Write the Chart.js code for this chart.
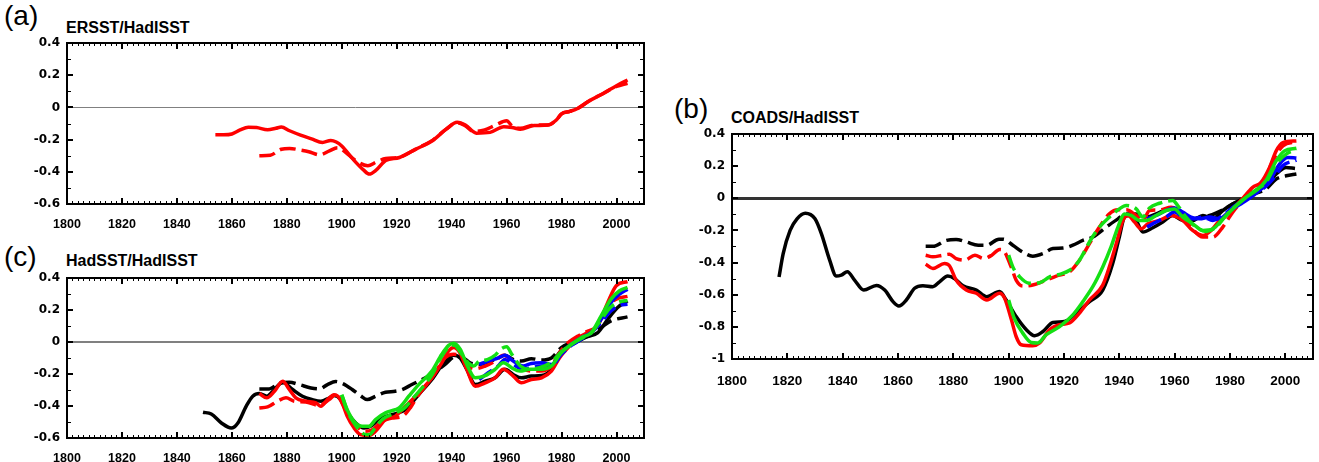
<!DOCTYPE html>
<html>
<head>
<meta charset="utf-8">
<script src="https://cdn.jsdelivr.net/npm/chart.js@4.4.0/dist/chart.umd.min.js"></script>
<style>
  body { margin: 0; background: #fff; }
  #wrap { position: relative; width: 1319px; height: 462px; overflow: hidden; font-family: "Liberation Sans", Arial, sans-serif; }
  .pnl { position: absolute; font-size: 28px; line-height: 28px; color: #000; }
  .ttl { position: absolute; font-size: 16px; line-height: 16px; font-weight: bold; color: #000; }
  canvas { position: absolute; }
</style>
</head>
<body>
<div id="wrap">
  <div class="pnl" style="left:4px;top:2px">(a)</div>
  <div class="ttl" style="left:66px;top:20px">ERSST/HadISST</div>
  <div class="pnl" style="left:674px;top:95px">(b)</div>
  <div class="ttl" style="left:731px;top:110px">COADS/HadISST</div>
  <div class="pnl" style="left:4px;top:243px">(c)</div>
  <div class="ttl" style="left:66px;top:253px">HadSST/HadISST</div>
  <canvas id="chartA" width="660" height="230" style="left:0;top:0"></canvas>
  <canvas id="chartB" width="659" height="300" style="left:660px;top:90px"></canvas>
  <canvas id="chartC" width="660" height="222" style="left:0;top:240px"></canvas>
</div>
<script>
// tick values
const xTicks = [1800, 1820, 1840, 1860, 1880, 1900, 1920, 1940, 1960, 1980, 2000];
const yTicksAC = [-0.6, -0.4, -0.2, 0, 0.2, 0.4];
const yTicksB = [-1, -0.8, -0.6, -0.4, -0.2, 0, 0.2, 0.4];

// (a) ERSST/HadISST  [year, difference]
const aRedSolid = [[1854,-0.17],[1857,-0.17],[1860,-0.165],[1863,-0.14],[1866,-0.123],[1869,-0.125],[1873,-0.139],[1876,-0.13],[1878,-0.122],[1881,-0.145],[1885,-0.172],[1889,-0.195],[1893,-0.218],[1896,-0.205],[1898,-0.215],[1900,-0.24],[1904,-0.32],[1908,-0.39],[1910,-0.414],[1912.5,-0.39],[1916,-0.33],[1921,-0.311],[1927,-0.259],[1933,-0.207],[1938,-0.135],[1942,-0.093],[1945,-0.11],[1949,-0.16],[1954,-0.155],[1959,-0.12],[1962,-0.125],[1965,-0.135],[1970,-0.113],[1975,-0.11],[1978,-0.08],[1980,-0.04],[1983,-0.025],[1986,-0.005],[1990,0.04],[1995,0.085],[2000,0.135],[2004,0.17]];
const aRedDash = [[1870,-0.30],[1874,-0.297],[1878,-0.26],[1881,-0.255],[1885,-0.265],[1888,-0.275],[1892,-0.295],[1895.5,-0.27],[1898.5,-0.25],[1901.5,-0.28],[1905,-0.33],[1909.5,-0.362],[1912.5,-0.34],[1916,-0.318],[1921,-0.31],[1927,-0.258],[1933,-0.205],[1938,-0.135],[1942,-0.095],[1945,-0.115],[1948,-0.15],[1952,-0.14],[1956,-0.11],[1960,-0.083],[1962,-0.115],[1965,-0.13],[1970,-0.11],[1975,-0.11],[1978,-0.08],[1980,-0.04],[1983,-0.025],[1986,-0.005],[1990,0.04],[1995,0.085],[2000,0.13],[2004,0.15]];

// (b) COADS/HadISST
const bBlackSolid = [[1817,-0.49],[1818.5,-0.344],[1821,-0.2],[1823.5,-0.128],[1826.5,-0.093],[1830,-0.128],[1832.3,-0.22],[1835.3,-0.385],[1837.7,-0.484],[1839.5,-0.478],[1841.7,-0.457],[1844.3,-0.509],[1847.6,-0.571],[1852.2,-0.542],[1855.2,-0.571],[1858.2,-0.643],[1860.3,-0.67],[1863,-0.633],[1866,-0.56],[1869,-0.544],[1872.6,-0.55],[1875,-0.52],[1878,-0.484],[1880.5,-0.5],[1883.5,-0.544],[1888.3,-0.571],[1892.1,-0.612],[1896.7,-0.58],[1899.1,-0.633],[1902.7,-0.736],[1906.4,-0.818],[1909.4,-0.855],[1912.4,-0.829],[1916,-0.773],[1920.2,-0.767],[1924.4,-0.715],[1929.2,-0.643],[1934,-0.571],[1937.6,-0.406],[1940,-0.241],[1941.9,-0.117],[1943.7,-0.107],[1946.1,-0.138],[1948.5,-0.21],[1952.1,-0.183],[1955.7,-0.148],[1959.3,-0.107],[1962.9,-0.138],[1966.5,-0.138],[1970.2,-0.107],[1973.8,-0.128],[1977.4,-0.076],[1981,-0.035],[1985.8,0],[1989.4,0.048],[1993,0.079],[1996.7,0.151],[2000.3,0.192],[2003.5,0.186]];
const bBlackDash = [[1870,-0.299],[1872.6,-0.299],[1877.5,-0.262],[1881,-0.256],[1884.7,-0.272],[1889,-0.292],[1892,-0.292],[1896.5,-0.255],[1898,-0.255],[1901.5,-0.292],[1905,-0.334],[1908.7,-0.36],[1912.4,-0.344],[1916,-0.313],[1919.6,-0.31],[1923.2,-0.292],[1926.8,-0.262],[1930.4,-0.241],[1935.3,-0.179],[1939.5,-0.128],[1942.5,-0.097],[1946,-0.097],[1949.7,-0.117],[1953.3,-0.097],[1958,-0.066],[1960.5,-0.076],[1965.3,-0.138],[1969,-0.117],[1972.6,-0.107],[1977.4,-0.072],[1982.2,-0.024],[1987,0.017],[1993,0.058],[1996.7,0.12],[2000.3,0.14],[2004,0.151]];
const bRedSolid = [[1870,-0.41],[1872.6,-0.437],[1876.8,-0.406],[1878.6,-0.42],[1881,-0.509],[1884.7,-0.571],[1888.3,-0.591],[1892.1,-0.633],[1896.7,-0.591],[1898.5,-0.62],[1901,-0.756],[1902.7,-0.86],[1904.5,-0.911],[1908.7,-0.917],[1911.2,-0.9],[1914.8,-0.818],[1918.4,-0.787],[1922,-0.776],[1925.6,-0.715],[1929.2,-0.633],[1934,-0.54],[1936.4,-0.427],[1938.9,-0.282],[1941.3,-0.138],[1943.1,-0.107],[1945.5,-0.148],[1947.9,-0.19],[1950.3,-0.158],[1954.5,-0.138],[1958.7,-0.107],[1963,-0.138],[1966.5,-0.2],[1970.2,-0.231],[1973.2,-0.2],[1976.2,-0.138],[1980.4,-0.076],[1983.9,-0.014],[1988.2,0.068],[1991.2,0.099],[1994.3,0.192],[1996.7,0.295],[1999.1,0.346],[2004,0.357]];
const bRedDash = [[1870,-0.354],[1872.6,-0.364],[1876.2,-0.354],[1878.6,-0.348],[1881,-0.375],[1884.1,-0.385],[1887.8,-0.354],[1890.9,-0.375],[1893.9,-0.354],[1896.7,-0.318],[1898,-0.323],[1900.9,-0.427],[1902.7,-0.509],[1905.1,-0.546],[1908.7,-0.54],[1913.6,-0.509],[1917.2,-0.484],[1922,-0.457],[1925.6,-0.385],[1929.2,-0.282],[1932.8,-0.179],[1936.4,-0.097],[1939.5,-0.072],[1942.5,-0.072],[1946.1,-0.107],[1948.5,-0.138],[1950.9,-0.076],[1954.5,-0.072],[1958.7,-0.056],[1963,-0.107],[1965.9,-0.179],[1970.2,-0.241],[1973.8,-0.241],[1977.4,-0.179],[1981,-0.086],[1984.6,-0.014],[1988.2,0.048],[1991.8,0.089],[1995.5,0.233],[1999.1,0.326],[2004,0.353]];
const bGreenSolid = [[1900,-0.633],[1902,-0.746],[1905.1,-0.839],[1908.1,-0.897],[1910.5,-0.9],[1913.6,-0.849],[1918.4,-0.798],[1923.2,-0.725],[1926.8,-0.643],[1930.4,-0.55],[1934,-0.427],[1937,-0.303],[1939.5,-0.179],[1941.9,-0.097],[1944.3,-0.107],[1947.3,-0.138],[1949.7,-0.138],[1953.3,-0.107],[1956.9,-0.076],[1959.9,-0.066],[1962.9,-0.117],[1966.5,-0.158],[1970.2,-0.2],[1973.8,-0.19],[1977.4,-0.128],[1981,-0.066],[1985.8,0.006],[1989.4,0.048],[1993,0.11],[1996.7,0.233],[1999.7,0.295],[2004,0.311]];
const bGreenDash = [[1900,-0.354],[1901.5,-0.427],[1904,-0.489],[1907.5,-0.529],[1911.2,-0.525],[1914.8,-0.489],[1918.4,-0.473],[1922,-0.448],[1925.6,-0.385],[1929.2,-0.272],[1932.8,-0.179],[1936.4,-0.117],[1940,-0.066],[1942.5,-0.045],[1946.1,-0.066],[1948.5,-0.117],[1950.9,-0.06],[1954.5,-0.031],[1959.3,-0.014],[1961.1,-0.045],[1964.1,-0.117],[1967.7,-0.179],[1971.4,-0.206],[1975,-0.179],[1978.6,-0.107],[1982.2,-0.045],[1985.8,0.006],[1989.4,0.052],[1993,0.1],[1996.7,0.213],[2000.3,0.275],[2004,0.305]];
const bBlueSolid = [[1950,-0.128],[1953.3,-0.107],[1956.9,-0.076],[1959.9,-0.06],[1962.9,-0.086],[1965.9,-0.117],[1969,-0.128],[1972.6,-0.117],[1976.2,-0.128],[1980,-0.076],[1983.9,-0.035],[1987,0],[1990.6,0.048],[1994.3,0.11],[1997.9,0.213],[2000.9,0.254],[2004,0.25]];
const bBlueDash = [[1950,-0.179],[1953.3,-0.148],[1956.9,-0.117],[1959.9,-0.086],[1962.9,-0.117],[1966.5,-0.128],[1970.2,-0.117],[1973.8,-0.138],[1977.4,-0.107],[1981,-0.056],[1984.6,-0.014],[1988.2,0.027],[1991.8,0.058],[1995.5,0.12],[1999.1,0.203],[2004,0.237]];

// (c) HadSST/HadISST
const cBlackSolid = [[1849.5,-0.439],[1852.5,-0.45],[1856.2,-0.506],[1859.8,-0.538],[1862.2,-0.506],[1865.2,-0.402],[1867.6,-0.339],[1870,-0.322],[1872.7,-0.339],[1875.5,-0.297],[1878.5,-0.251],[1882.1,-0.297],[1885.7,-0.339],[1889.3,-0.36],[1892.4,-0.37],[1895.4,-0.35],[1897.2,-0.335],[1899.6,-0.36],[1902.6,-0.454],[1905.1,-0.506],[1908.1,-0.538],[1910.5,-0.527],[1913.5,-0.485],[1918.3,-0.454],[1923.2,-0.423],[1928,-0.328],[1932.8,-0.234],[1937.6,-0.119],[1940.7,-0.083],[1943.1,-0.1],[1945.5,-0.171],[1948.6,-0.266],[1952.2,-0.245],[1955.8,-0.224],[1959.4,-0.171],[1962.4,-0.203],[1965.4,-0.224],[1969,-0.213],[1972.7,-0.21],[1976.3,-0.171],[1978.7,-0.077],[1981.2,-0.035],[1984.8,-0.007],[1988.4,0.027],[1993.2,0.059],[1996.8,0.142],[2000.4,0.216],[2004,0.257]];
const cBlackDash = [[1870,-0.293],[1873.6,-0.293],[1877.2,-0.259],[1880.9,-0.251],[1884.5,-0.266],[1888.8,-0.287],[1891.8,-0.293],[1894.8,-0.266],[1897.8,-0.247],[1900.2,-0.259],[1903.8,-0.297],[1906.8,-0.335],[1909.3,-0.36],[1912.3,-0.339],[1915.9,-0.314],[1919.5,-0.308],[1922,-0.297],[1925.5,-0.266],[1929.2,-0.234],[1932.8,-0.203],[1937.6,-0.14],[1941.3,-0.092],[1944.3,-0.1],[1946.7,-0.13],[1949.7,-0.14],[1953.3,-0.125],[1956.9,-0.1],[1959.4,-0.083],[1962.4,-0.109],[1965.4,-0.119],[1969,-0.104],[1972.7,-0.113],[1976.3,-0.1],[1979.9,-0.035],[1983.6,-0.004],[1987.2,0.017],[1990.8,0.048],[1994.4,0.09],[1998,0.132],[2004,0.157]];
const cRedSolid = [[1870,-0.322],[1872.7,-0.349],[1875.5,-0.308],[1878.5,-0.245],[1880.9,-0.297],[1883.3,-0.349],[1886.9,-0.37],[1890.6,-0.381],[1892.4,-0.402],[1894.8,-0.36],[1897.2,-0.329],[1899.6,-0.36],[1902,-0.464],[1904.5,-0.538],[1906.8,-0.579],[1909.9,-0.585],[1912.3,-0.558],[1915.9,-0.485],[1919.5,-0.464],[1921,-0.44],[1924.4,-0.381],[1928,-0.318],[1932.8,-0.224],[1936.4,-0.13],[1938.9,-0.056],[1940.7,-0.035],[1943.1,-0.071],[1945.5,-0.171],[1948.6,-0.276],[1952.2,-0.255],[1955.8,-0.224],[1958.8,-0.171],[1962.4,-0.213],[1965.4,-0.255],[1969,-0.234],[1972.7,-0.224],[1976.3,-0.182],[1979.3,-0.098],[1982.4,-0.035],[1986,0.027],[1989.6,0.059],[1993.2,0.101],[1996.8,0.247],[1999.9,0.352],[2004,0.377]];
const cRedDash = [[1870,-0.412],[1873,-0.406],[1876.6,-0.37],[1879.7,-0.349],[1882.7,-0.37],[1886.9,-0.375],[1891.8,-0.396],[1895.4,-0.36],[1897.8,-0.329],[1901.4,-0.423],[1905.1,-0.517],[1908.1,-0.558],[1911.1,-0.548],[1914.7,-0.496],[1918.3,-0.475],[1922,-0.465],[1925,-0.41],[1927.5,-0.34],[1930.4,-0.276],[1934,-0.192],[1937.6,-0.098],[1940.7,-0.077],[1943.7,-0.092],[1946.1,-0.15],[1948.6,-0.167],[1952.2,-0.15],[1955.8,-0.119],[1958.8,-0.083],[1962.4,-0.119],[1965.4,-0.161],[1969,-0.182],[1972.7,-0.182],[1976.3,-0.15],[1979.3,-0.066],[1982.4,-0.004],[1986,0.038],[1989.6,0.069],[1993.2,0.101],[1996.8,0.226],[1999.9,0.268],[2004,0.285]];
const cGreenSolid = [[1900,-0.33],[1902,-0.423],[1904.5,-0.496],[1907.5,-0.527],[1909.9,-0.527],[1912.3,-0.485],[1915.9,-0.443],[1919.5,-0.423],[1921,-0.41],[1924.4,-0.339],[1928,-0.266],[1932.8,-0.182],[1936.4,-0.077],[1938.9,-0.021],[1940.7,-0.008],[1943.1,-0.045],[1945.5,-0.14],[1948.6,-0.224],[1952.2,-0.21],[1955.8,-0.171],[1958.8,-0.129],[1961.8,-0.161],[1964.8,-0.182],[1968.4,-0.171],[1972.7,-0.171],[1976.3,-0.15],[1979.9,-0.066],[1983.6,-0.014],[1987.2,0.027],[1990.8,0.059],[1994.4,0.163],[1998,0.268],[2001.1,0.32],[2004,0.341]];
const cGreenDash = [[1900,-0.33],[1902,-0.43],[1905,-0.52],[1908,-0.575],[1910,-0.58],[1912,-0.54],[1915,-0.48],[1920,-0.44],[1923,-0.41],[1926,-0.35],[1930,-0.27],[1933,-0.2],[1936,-0.1],[1939,-0.03],[1941,-0.02],[1943,-0.06],[1946,-0.13],[1948,-0.15],[1950,-0.12],[1953,-0.11],[1956,-0.08],[1957.5,-0.05],[1960,-0.03],[1962,-0.08],[1965,-0.15],[1968,-0.17],[1972,-0.16],[1976,-0.13],[1980,-0.06],[1984,-0.01],[1988,0.03],[1991,0.06],[1994,0.13],[1998,0.22],[2001,0.25],[2004,0.26]];
const cBlueSolid = [[1950,-0.14],[1953.3,-0.119],[1956.9,-0.1],[1959.4,-0.083],[1962.4,-0.119],[1966,-0.15],[1969,-0.134],[1972.7,-0.13],[1976.3,-0.14],[1979.9,-0.066],[1983.6,-0.014],[1987.2,0.027],[1990.8,0.059],[1994.4,0.142],[1998,0.247],[2001.1,0.299],[2004,0.33]];
const cBlueDash = [[1950,-0.235],[1953.3,-0.192],[1956.9,-0.15],[1959.4,-0.109],[1962.4,-0.14],[1966,-0.171],[1969,-0.161],[1972.7,-0.15],[1976.3,-0.15],[1979.9,-0.077],[1983.6,-0.021],[1987.2,0.017],[1990.8,0.059],[1994.4,0.122],[1998,0.195],[2001.1,0.23],[2004,0.236]];

const RED = "#ff0000", GREEN = "#14e014", BLUE = "#0000ff", BLACK = "#000000";

// box round the plot with inward ticks on all four sides
const framePlugin = {
  id: "frame",
  afterDraw(chart) {
    const ctx = chart.ctx;
    const a = chart.chartArea;
    const x = chart.scales.x, y = chart.scales.y;
    ctx.save();
    ctx.strokeStyle = "#000";
    // minor ticks
    ctx.lineWidth = 1;
    ctx.beginPath();
    for (let yr = 1800; yr <= 2010; yr += 2) {
      if (yr % 20 === 0) continue;
      const px = Math.round(x.getPixelForValue(yr)) + 0.5;
      ctx.moveTo(px, a.bottom); ctx.lineTo(px, a.bottom - 3);
      ctx.moveTo(px, a.top); ctx.lineTo(px, a.top + 3);
    }
    for (let k = 0; ; k++) {
      const v = y.min + k * 0.1;
      if (v > y.max + 1e-6) break;
      if (Math.abs(Math.round(v * 10)) % 2 === 0) continue;
      const py = Math.round(y.getPixelForValue(v)) + 0.5;
      ctx.moveTo(a.left, py); ctx.lineTo(a.left + 4, py);
      ctx.moveTo(a.right, py); ctx.lineTo(a.right - 4, py);
    }
    ctx.stroke();
    // major ticks
    ctx.lineWidth = 2;
    ctx.beginPath();
    xTicks.forEach(yr => {
      const px = Math.round(x.getPixelForValue(yr));
      ctx.moveTo(px, a.bottom); ctx.lineTo(px, a.bottom - 6);
      ctx.moveTo(px, a.top); ctx.lineTo(px, a.top + 6);
    });
    y.ticks.forEach(t => {
      const py = Math.round(y.getPixelForValue(t.value));
      ctx.moveTo(a.left, py); ctx.lineTo(a.left + 6, py);
      ctx.moveTo(a.right, py); ctx.lineTo(a.right - 6, py);
    });
    ctx.stroke();
    ctx.strokeRect(a.left, a.top, a.right - a.left, a.bottom - a.top);
    ctx.restore();
  }
};

function makeChart(id, p) {
  const datasets = p.series.map(s => ({
    data: s.data,
    borderColor: s.color,
    borderWidth: 3.5,
    borderDash: s.dash ? [16, 6] : [],
    pointRadius: 0,
    fill: false,
    tension: 0.4,
    cubicInterpolationMode: "monotone"
  }));
  return new Chart(document.getElementById(id), {
    type: "line",
    data: { datasets: datasets },
    plugins: [framePlugin],
    options: {
      responsive: false,
      animation: false,
      devicePixelRatio: 1,
      layout: { padding: { top: p.padTop, right: p.padRight, left: 0, bottom: 0 } },
      plugins: { legend: { display: false }, tooltip: { enabled: false } },
      scales: {
        x: {
          type: "linear",
          min: 1800,
          max: 2010,
          grid: { display: false },
          border: { display: false },
          ticks: {
            stepSize: 20,
            maxRotation: 0,
            autoSkip: false,
            padding: p.xPad,
            color: "#000",
            font: { family: "Liberation Sans", weight: "bold", size: p.xFont },
            callback: v => String(v)
          },
          afterBuildTicks: s => { s.ticks = xTicks.map(v => ({ value: v })); },
          afterFit: s => { s.height = p.xAxisH; }
        },
        y: {
          type: "linear",
          min: p.yTicks[0],
          max: p.yTicks[p.yTicks.length - 1],
          border: { display: false },
          grid: {
            drawTicks: false,
            color: c => (c.tick && Math.abs(c.tick.value) < 1e-9) ? p.zeroColor : "rgba(0,0,0,0)",
            lineWidth: c => (c.tick && Math.abs(c.tick.value) < 1e-9) ? p.zeroWidth : 0
          },
          ticks: {
            padding: 7,
            color: "#000",
            font: { family: "DejaVu Sans", weight: "bold", size: 12 },
            callback: v => Math.abs(v) < 1e-9 ? "0" : (Number.isInteger(v) ? String(v) : v.toFixed(1))
          },
          afterBuildTicks: s => { s.ticks = p.yTicks.map(v => ({ value: v })); },
          afterFit: s => { s.width = p.yAxisW; }
        }
      }
    }
  });
}

makeChart("chartA", {
  series: [
    { data: aRedSolid, color: RED, dash: false },
    { data: aRedDash, color: RED, dash: true }
  ],
  yTicks: yTicksAC,
  padTop: 43, padRight: 16, yAxisW: 67, xAxisH: 26, xPad: 5, xFont: 12.5,
  zeroColor: "#808080", zeroWidth: 1
});

makeChart("chartB", {
  series: [
    { data: bGreenSolid, color: GREEN, dash: false },
    { data: bGreenDash, color: GREEN, dash: true },
    { data: bBlueSolid, color: BLUE, dash: false },
    { data: bBlueDash, color: BLUE, dash: true },
    { data: bRedSolid, color: RED, dash: false },
    { data: bRedDash, color: RED, dash: true },
    { data: bBlackSolid, color: BLACK, dash: false },
    { data: bBlackDash, color: BLACK, dash: true }
  ],
  yTicks: yTicksB,
  padTop: 44, padRight: 6, yAxisW: 72, xAxisH: 31, xPad: 6, xFont: 13.5,
  zeroColor: "#333333", zeroWidth: 3
});

makeChart("chartC", {
  series: [
    { data: cGreenSolid, color: GREEN, dash: false },
    { data: cGreenDash, color: GREEN, dash: true },
    { data: cBlueSolid, color: BLUE, dash: false },
    { data: cBlueDash, color: BLUE, dash: true },
    { data: cRedSolid, color: RED, dash: false },
    { data: cRedDash, color: RED, dash: true },
    { data: cBlackSolid, color: BLACK, dash: false },
    { data: cBlackDash, color: BLACK, dash: true }
  ],
  yTicks: yTicksAC,
  padTop: 38, padRight: 16, yAxisW: 67, xAxisH: 24, xPad: 5, xFont: 12.5,
  zeroColor: "#808080", zeroWidth: 2
});
</script>
</body>
</html>
